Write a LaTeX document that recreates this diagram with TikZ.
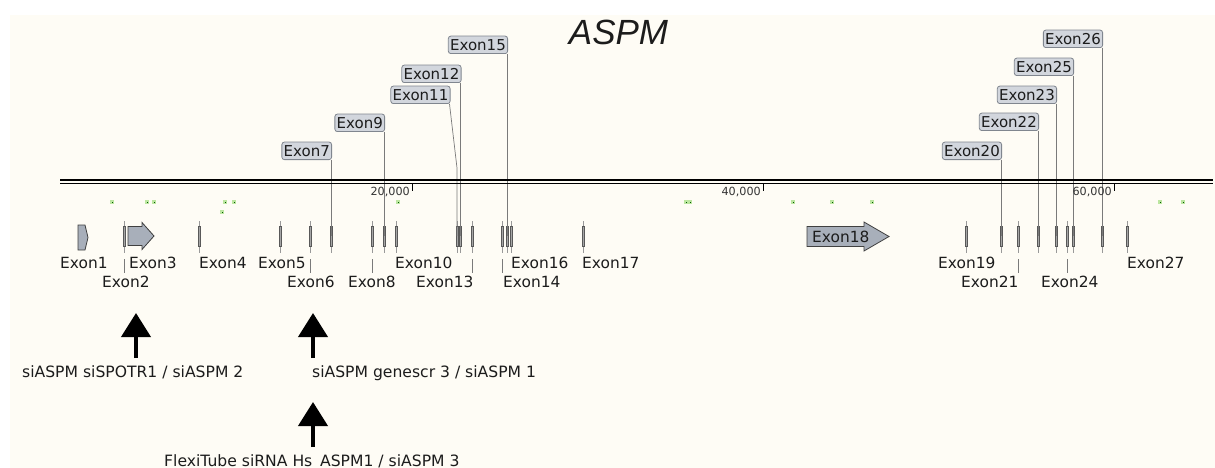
\documentclass[tikz,border=0pt]{standalone}
\usepackage{fontspec}
\setmainfont{DejaVu Sans}
\newfontfamily\titlefont{Liberation Sans}
\usetikzlibrary{arrows.meta}
\definecolor{cream}{HTML}{FEFCF5}
\definecolor{boxfill}{HTML}{D2D6DD}
\definecolor{boxdraw}{HTML}{80868F}
\definecolor{arrfill}{HTML}{A8AFBA}
\definecolor{dotgreen}{HTML}{BCE6A0}
\definecolor{connc}{HTML}{7A7A7A}
\definecolor{txt}{HTML}{1C1C1C}
\tikzset{
  glyph/.style={draw=black!65, fill=gray!70, line width=0.45pt, minimum width=1.6pt, minimum height=20pt, inner sep=0pt},
  stem/.style={draw=gray!80, line width=0.6pt},
  conn/.style={draw=connc, line width=0.7pt},
  exbox/.style={draw=boxdraw, fill=boxfill, rounded corners=2.5pt, line width=0.8pt, inner xsep=1.8pt, inner ysep=1pt, minimum height=17.5pt, text=txt, font=\fontsize{15}{17}\selectfont},
  lab/.style={inner sep=0pt, text=txt, font=\fontsize{15.4}{18}\selectfont},
  sitext/.style={inner sep=0pt, text=txt, font=\fontsize{15.6}{18}\selectfont},
  ticklab/.style={inner sep=0pt, text=black!80, font=\fontsize{11.2}{13}\selectfont},
  exarrow/.style={draw=black!75, fill=arrfill, line width=0.8pt, line join=miter},
  bigarrow/.style={draw=black, line width=4pt, -{Triangle[length=24pt,width=29pt]}},
}
\begin{document}
\begin{tikzpicture}[x=1pt,y=-1pt]
\useasboundingbox (0,0) rectangle (1215,468);
\fill[white] (0,0) rectangle (1215,468);
\fill[cream] (10,15) rectangle (1215,468);

% title
\node[inner sep=0pt, text=txt, font=\titlefont\itshape\fontsize{35}{40}\selectfont] (title) at (618.5,32.5) {ASPM};

% green dots
\foreach \x/\y in {112/202,147/202,154/202,225/202,234/202,222/212,398/202,686/202,690/202,793/202,832/202,872/202,1160/202,1183/202}{
  \fill[dotgreen] (\x-1.6,\y-1.6) rectangle ++(3.2,3.2);
  \fill[green!35!black] (\x-0.5,\y-0.5) rectangle ++(1,1);
}

% exon glyphs
\foreach \n/\x in {2/124.5,4/199,5/280,6/310,7/331,8/372,9/384,10/396,11/457,12/460.5,13/472,14/502,15/507,16/511,17/583,19/966,20/1001,21/1018,22/1038,23/1056,24/1067,25/1073,26/1102,27/1127}{
  \draw[stem] (\x,221) -- (\x,253);
  \node[glyph] (g\n) at (\x,236) {};
}

% connectors from boxed labels
\foreach \n/\x/\y in {7/331/160,9/384/132,12/460.5/83,15/507/54,20/1001/160,22/1038/131,23/1056/104,25/1073/76,26/1102/48}{
  \node[exbox, anchor=south east] (b\n) at (\x+1,\y) {Exon\n};
  \draw[conn] (g\n |- b\n.south) -- (g\n.center);
}
\node[exbox, anchor=south east] (b11) at (450.5,104) {Exon11};
\coordinate (k11) at (457,168);
\draw[conn] ([xshift=-1pt]b11.south east) -- (k11) -- (g11.center);

% main double line
\draw[line width=1.8pt] (60,180) -- (1213,180);
\draw[line width=1.8pt] (60,183.4) -- (1213,183.4);

% scale ticks
\foreach \x/\t in {412/20{,}000,763/40{,}000,1114/60{,}000}{
  \draw[line width=0.8pt] (\x,184) -- (\x,190.5);
  \node[ticklab, anchor=base east] at (\x-2,195) {\t};
}

% exon arrow shapes
\draw[exarrow] (78,225) -- (85,225) -- (88,237.5) -- (85,250) -- (78,250) -- cycle;
\draw[exarrow] (128,226.5) -- (142,226.5) -- (142,222.5) -- (154,236) -- (142,249.5) -- (142,245.5) -- (128,245.5) -- cycle;
\draw[exarrow] (807,226.5) -- (864,226.5) -- (864,222) -- (889,236.5) -- (864,251) -- (864,246.5) -- (807,246.5) -- cycle;
\node[lab, anchor=base west] (l18) at (812,242) {Exon18};

% row 1 labels
\foreach \n/\x in {1/60,3/129,4/199,5/258,10/395,16/511,17/582,19/938,27/1127}{
  \node[lab, anchor=base west] (l\n) at (\x,268) {Exon\n};
}
% row 2 labels
\foreach \n/\x in {2/102,6/287,8/348,13/416,14/503,21/961,24/1041}{
  \node[lab, anchor=base west] (l\n) at (\x,287.5) {Exon\n};
  \coordinate (t\n) at (g\n |- 0,259);
  \draw[conn] (t\n) -- ++(0,13.5);
}

% siRNA annotations
\node[sitext, anchor=base west] (s1) at (22,377) {siASPM siSPOTR1 / siASPM 2};
\node[sitext, anchor=base west] (s2) at (312,377) {siASPM genescr 3 / siASPM 1};
\node[sitext, anchor=base west] (s3) at (164,466.5) {FlexiTube siRNA Hs\_ASPM1 / siASPM 3};
\coordinate (a1b) at (136,358); \coordinate (a1t) at (136,313);
\coordinate (a2b) at (313,358); \coordinate (a2t) at (313,313);
\coordinate (a3b) at (313,447); \coordinate (a3t) at (313,402);
\draw[bigarrow] (a1b) -- (a1t);
\draw[bigarrow] (a2b) -- (a2t);
\draw[bigarrow] (a3b) -- (a3t);
\end{tikzpicture}
\end{document}
